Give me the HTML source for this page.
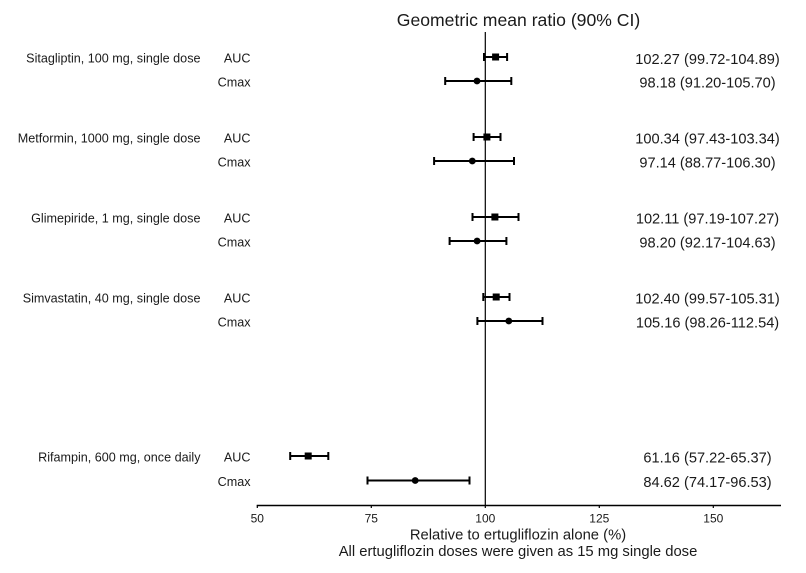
<!DOCTYPE html>
<html>
<head>
<meta charset="utf-8">
<style>
  html, body { margin: 0; padding: 0; background: #ffffff; }
  svg { display: block; }
  text { font-family: "Liberation Sans", Arial, sans-serif; fill: #1a1a1a; }
  .lbl { font-size: 12.6px; text-anchor: end; }
  .val { font-size: 14.6px; text-anchor: middle; }
  .tick { font-size: 12px; text-anchor: middle; }
  .bar { stroke: #000; stroke-width: 2; fill: none; }
</style>
</head>
<body>
<svg width="806" height="573" viewBox="0 0 806 573" xmlns="http://www.w3.org/2000/svg">
  <rect x="0" y="0" width="806" height="573" fill="#ffffff"/>

  <!-- Title -->
  <text x="518.5" y="26" style="font-size:17.6px; text-anchor:middle;">Geometric mean ratio (90% CI)</text>

  <!-- Reference line at 100 -->
  <line x1="485.3" y1="32" x2="485.3" y2="505.5" stroke="#000" stroke-width="1.2"/>

  <!-- X axis -->
  <line x1="256.7" y1="505.5" x2="781" y2="505.5" stroke="#000" stroke-width="1.5"/>
  <g stroke="#000" stroke-width="1.2">
    <line x1="257.3" y1="505.5" x2="257.3" y2="508"/>
    <line x1="371.3" y1="505.5" x2="371.3" y2="508"/>
    <line x1="485.3" y1="505.5" x2="485.3" y2="508"/>
    <line x1="599.3" y1="505.5" x2="599.3" y2="508"/>
    <line x1="713.3" y1="505.5" x2="713.3" y2="508"/>
  </g>
  <text class="tick" x="257.3" y="522.5">50</text>
  <text class="tick" x="371.3" y="522.5">75</text>
  <text class="tick" x="485.3" y="522.5">100</text>
  <text class="tick" x="599.3" y="522.5">125</text>
  <text class="tick" x="713.3" y="522.5">150</text>

  <text x="518" y="539.5" style="font-size:14.8px; text-anchor:middle;">Relative to ertugliflozin alone (%)</text>
  <text x="518" y="556" style="font-size:14.8px; text-anchor:middle;">All ertugliflozin doses were given as 15 mg single dose</text>

  <!-- Left labels -->
  <text class="lbl" x="200.5" y="62.7">Sitagliptin, 100 mg, single dose</text>
  <text class="lbl" x="200.5" y="142.7">Metformin, 1000 mg, single dose</text>
  <text class="lbl" x="200.5" y="222.7">Glimepiride, 1 mg, single dose</text>
  <text class="lbl" x="200.5" y="302.7">Simvastatin, 40 mg, single dose</text>
  <text class="lbl" x="200.5" y="461.7">Rifampin, 600 mg, once daily</text>

  <text class="lbl" x="250.5" y="62.7">AUC</text>
  <text class="lbl" x="250.5" y="86.7">Cmax</text>
  <text class="lbl" x="250.5" y="142.7">AUC</text>
  <text class="lbl" x="250.5" y="166.7">Cmax</text>
  <text class="lbl" x="250.5" y="222.7">AUC</text>
  <text class="lbl" x="250.5" y="246.7">Cmax</text>
  <text class="lbl" x="250.5" y="302.7">AUC</text>
  <text class="lbl" x="250.5" y="326.7">Cmax</text>
  <text class="lbl" x="250.5" y="461.7">AUC</text>
  <text class="lbl" x="250.5" y="486.2">Cmax</text>

  <!-- Right values -->
  <text class="val" x="707.5" y="64">102.27 (99.72-104.89)</text>
  <text class="val" x="707.5" y="87.5">98.18 (91.20-105.70)</text>
  <text class="val" x="707.5" y="143.5">100.34 (97.43-103.34)</text>
  <text class="val" x="707.5" y="167.5">97.14 (88.77-106.30)</text>
  <text class="val" x="707.5" y="223.5">102.11 (97.19-107.27)</text>
  <text class="val" x="707.5" y="247.5">98.20 (92.17-104.63)</text>
  <text class="val" x="707.5" y="303.5">102.40 (99.57-105.31)</text>
  <text class="val" x="707.5" y="327.5">105.16 (98.26-112.54)</text>
  <text class="val" x="707.5" y="462.5">61.16 (57.22-65.37)</text>
  <text class="val" x="707.5" y="487">84.62 (74.17-96.53)</text>

  <!-- Error bars -->
  <g class="bar">
    <!-- Sitagliptin AUC -->
    <path d="M484.0 57 H507.1 M484.0 53 V61 M507.1 53 V61"/>
    <!-- Sitagliptin Cmax -->
    <path d="M445.2 81 H511.3 M445.2 77 V85 M511.3 77 V85"/>
    <!-- Metformin AUC -->
    <path d="M473.6 137 H500.5 M473.6 133 V141 M500.5 133 V141"/>
    <!-- Metformin Cmax -->
    <path d="M434.1 161 H514.0 M434.1 157 V165 M514.0 157 V165"/>
    <!-- Glimepiride AUC -->
    <path d="M472.5 217 H518.5 M472.5 213 V221 M518.5 213 V221"/>
    <!-- Glimepiride Cmax -->
    <path d="M449.6 241 H506.4 M449.6 237 V245 M506.4 237 V245"/>
    <!-- Simvastatin AUC -->
    <path d="M483.3 297 H509.5 M483.3 293 V301 M509.5 293 V301"/>
    <!-- Simvastatin Cmax -->
    <path d="M477.4 321 H542.5 M477.4 317 V325 M542.5 317 V325"/>
    <!-- Rifampin AUC -->
    <path d="M290.2 456 H328.3 M290.2 452 V460 M328.3 452 V460"/>
    <!-- Rifampin Cmax -->
    <path d="M367.5 480.5 H469.5 M367.5 476.5 V484.5 M469.5 476.5 V484.5"/>
  </g>

  <!-- Markers -->
  <g fill="#000">
    <rect x="492.1" y="53.5" width="7" height="7"/>
    <circle cx="477.0" cy="81" r="3.4"/>
    <rect x="483.4" y="133.5" width="7" height="7"/>
    <circle cx="472.3" cy="161" r="3.4"/>
    <rect x="491.4" y="213.5" width="7" height="7"/>
    <circle cx="477.1" cy="241" r="3.4"/>
    <rect x="492.7" y="293.5" width="7" height="7"/>
    <circle cx="508.8" cy="321" r="3.4"/>
    <rect x="304.7" y="452.5" width="7" height="7"/>
    <circle cx="415.2" cy="480.5" r="3.4"/>
  </g>
</svg>
</body>
</html>
